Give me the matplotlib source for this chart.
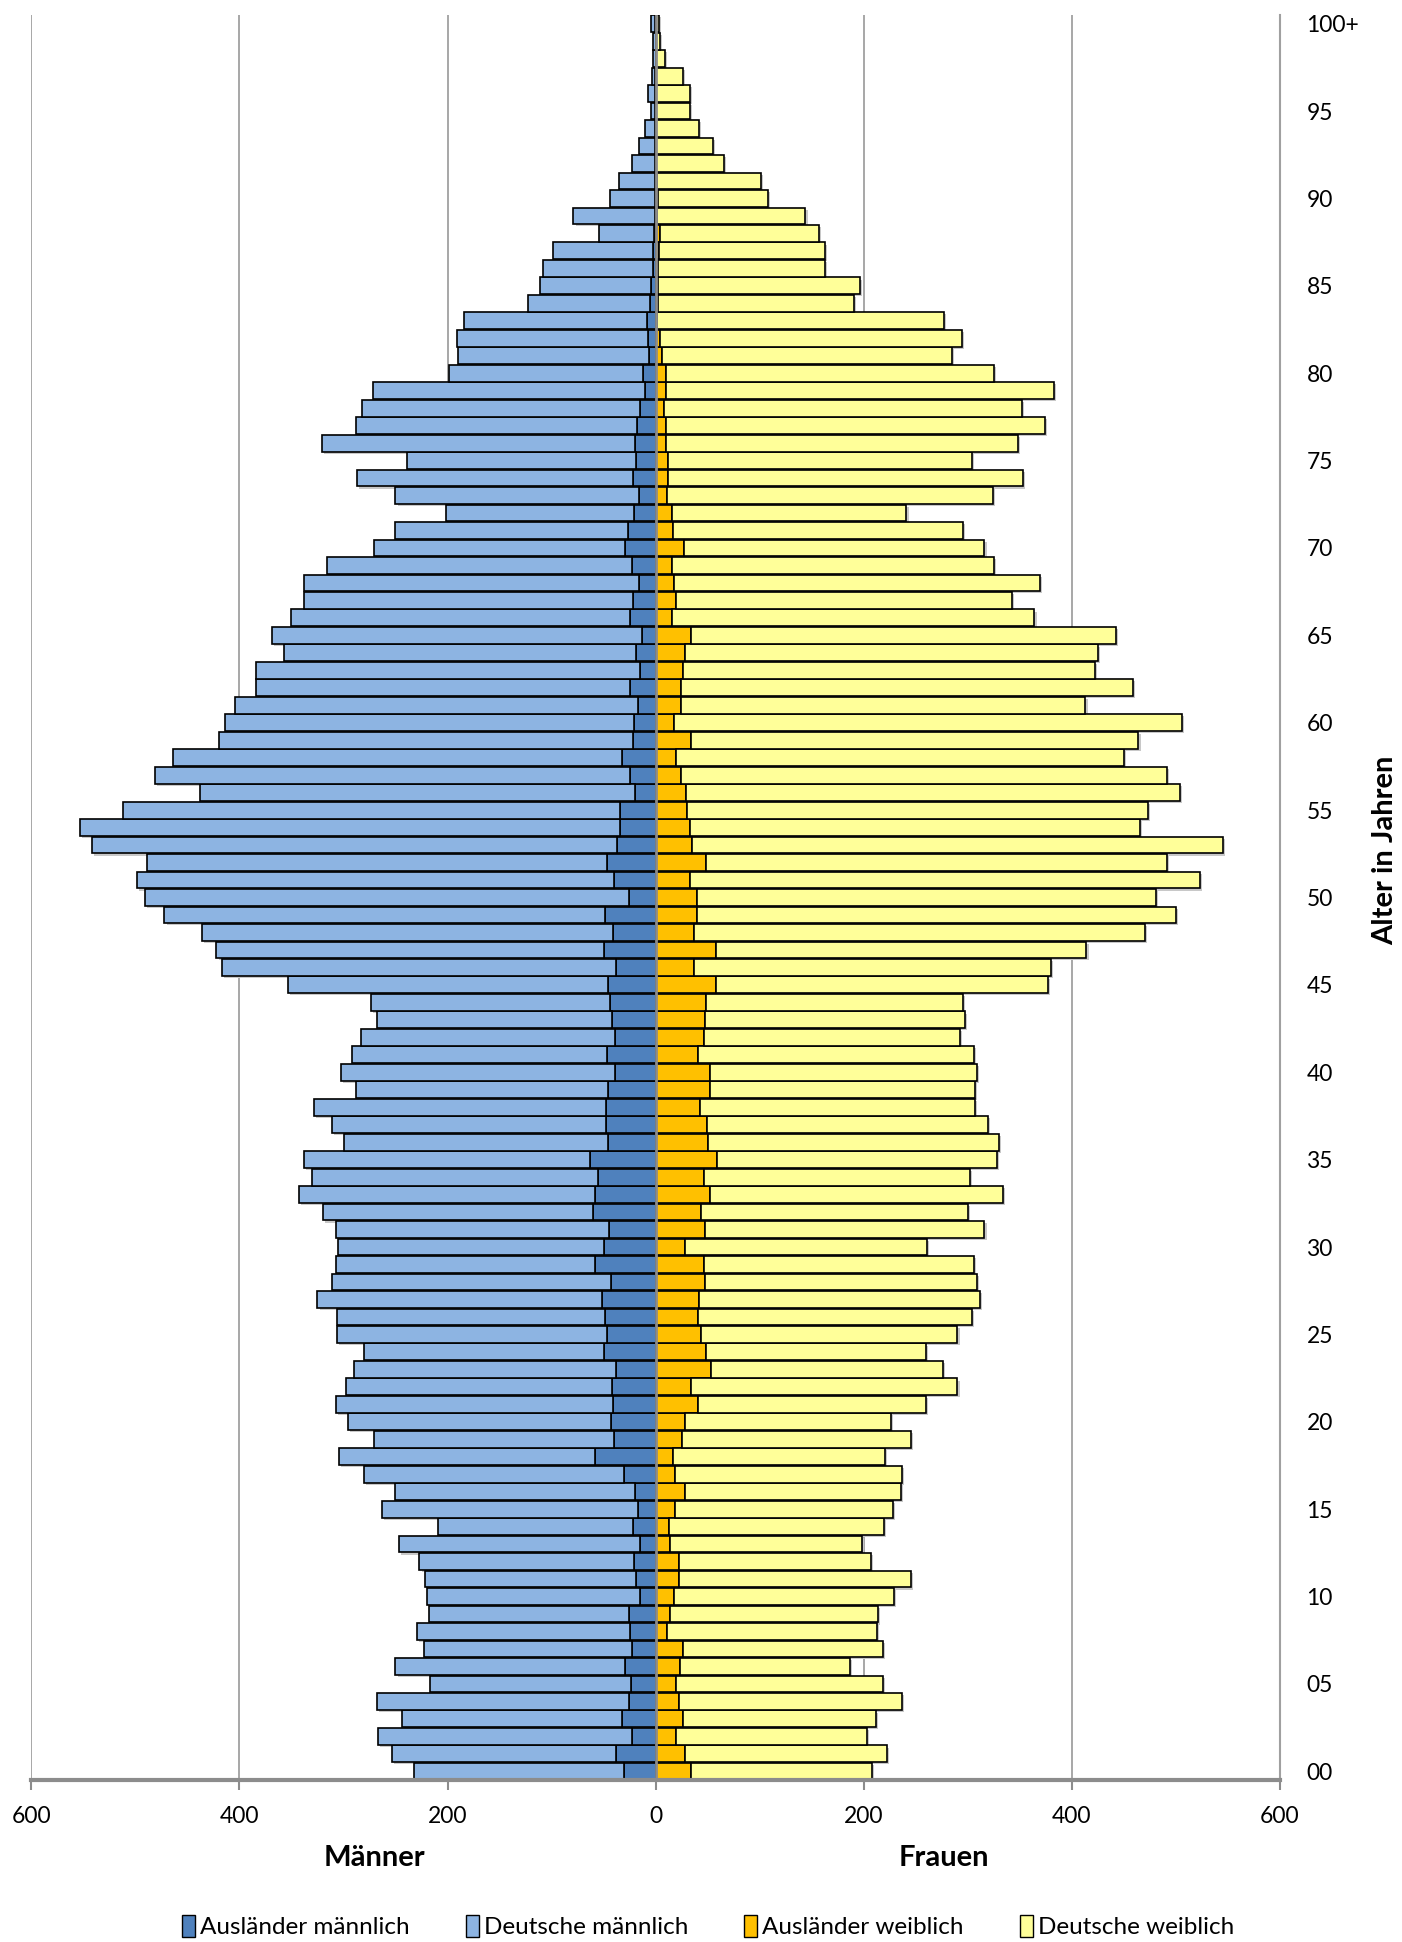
import numpy as np
import matplotlib
matplotlib.use('Agg')
import matplotlib.pyplot as plt
from matplotlib.patches import Patch

plt.rcParams['font.family'] = ['Lato', 'DejaVu Sans']

# Altersjahre 0 .. 100+
ages = np.arange(0, 101)

# Auslaender maennlich
m_ausl = [30, 38, 23, 32, 26, 24, 29, 23, 25, 26,
          15, 19, 21, 15, 22, 17, 20, 30, 58, 40,
          43, 41, 42, 38, 50, 47, 49, 52, 43, 58,
          50, 45, 60, 58, 55, 63, 46, 48, 48, 46,
          39, 47, 39, 42, 44, 46, 38, 50, 41, 49,
          26, 40, 47, 37, 34, 34, 20, 25, 32, 22,
          21, 17, 25, 15, 19, 13, 25, 22, 16, 23,
          29, 27, 21, 16, 22, 19, 20, 18, 15, 10,
          12, 6, 7, 8, 5, 4, 3, 3, 2, 1,
          1, 0.5, 0.5, 0.3, 0.3, 0.2, 0.2, 0.2, 0.1, 0.1,
          0.5]

# Deutsche maennlich
m_de = [202, 215, 244, 212, 242, 193, 221, 200, 204, 192,
        205, 203, 206, 232, 187, 246, 230, 250, 246, 231,
        253, 266, 256, 252, 230, 259, 257, 273, 268, 249,
        255, 262, 260, 285, 275, 275, 253, 263, 280, 242,
        263, 245, 244, 226, 230, 307, 379, 372, 395, 423,
        465, 458, 442, 505, 519, 478, 418, 456, 432, 398,
        393, 387, 359, 369, 338, 356, 325, 316, 322, 293,
        242, 223, 180, 234, 265, 220, 301, 270, 267, 262,
        187, 184, 184, 176, 118, 107, 105, 96, 52, 78,
        43, 35, 22, 16, 10, 4, 7, 3, 2, 2.5,
        3.5]

# Auslaender weiblich
w_ausl = [34, 28, 20, 26, 22, 20, 23, 26, 11, 14,
          18, 22, 22, 14, 13, 19, 28, 19, 17, 25,
          28, 41, 34, 53, 48, 44, 41, 42, 47, 46,
          28, 47, 44, 52, 46, 59, 50, 49, 43, 52,
          52, 41, 46, 47, 48, 58, 37, 58, 37, 40,
          40, 33, 48, 35, 33, 30, 29, 24, 20, 34,
          18, 24, 24, 26, 28, 34, 16, 20, 18, 16,
          27, 17, 16, 11, 12, 12, 10, 10, 8, 10,
          10, 6, 4, 1, 2, 2, 2, 3, 4, 1,
          2, 1, 0.5, 0.5, 0.3, 0.3, 0.3, 0.2, 0.1, 0.1,
          0.2]

# Deutsche weiblich
w_de = [174, 194, 183, 186, 215, 198, 164, 192, 202, 200,
        211, 223, 185, 184, 206, 209, 208, 218, 203, 220,
        198, 219, 256, 223, 212, 246, 263, 270, 262, 260,
        233, 269, 256, 282, 256, 269, 280, 270, 264, 255,
        257, 265, 246, 250, 247, 319, 343, 356, 433, 460,
        441, 490, 443, 510, 432, 443, 475, 467, 430, 430,
        488, 389, 435, 396, 397, 408, 348, 322, 351, 309,
        289, 278, 225, 313, 341, 292, 338, 364, 344, 373,
        315, 279, 290, 276, 189, 194, 161, 160, 153, 143,
        106, 100, 65.5, 55, 41, 33, 33, 26, 8.5, 4,
        3]

age_ticks = list(range(0, 101, 5))
age_labels = ['%02d' % a for a in age_ticks[:-1]] + ['100+']
x_ticks = [-600, -400, -200, 0, 200, 400, 600]

m_ausl = np.array(m_ausl)
m_de = np.array(m_de)
w_ausl = np.array(w_ausl)
w_de = np.array(w_de)

c_m_ausl = '#4F81BD'
c_m_de = '#8DB4E2'
c_w_ausl = '#FFC000'
c_w_de = '#FFFF99'

fig = plt.figure(figsize=(14.02, 19.42), dpi=100)
ax = fig.add_axes([0.0223, 0.0834, 0.8907, 0.9089])

h = 0.96
# shadow
ax.barh(ages - 0.12, -(m_ausl + m_de), left=2, height=h, color='#c8c8c8', lw=0, zorder=1)
ax.barh(ages - 0.12, w_ausl + w_de, left=2, height=h, color='#c8c8c8', lw=0, zorder=1)

kw = dict(height=h, edgecolor='black', linewidth=1.2, zorder=2)
ax.barh(ages, -m_ausl, color=c_m_ausl, **kw)
ax.barh(ages, -m_de, left=-m_ausl, color=c_m_de, **kw)
ax.barh(ages, w_ausl, color=c_w_ausl, **kw)
ax.barh(ages, w_de, left=w_ausl, color=c_w_de, **kw)

for x in x_ticks:
    ax.axvline(x, color='#a0a0a0', lw=1.3, zorder=0)
ax.axvline(0, color='#8c8c8c', lw=2, zorder=3)

ax.set_xlim(-600, 600)
ax.set_ylim(-0.5, 100.5)
ax.set_xticks(x_ticks)
ax.set_xticklabels([str(abs(x)) for x in x_ticks], fontsize=16.5)
ax.tick_params(axis='x', direction='out', length=7, width=1.5, color='#8c8c8c', pad=12)

ax.yaxis.tick_right()
ax.set_yticks(age_ticks)
ax.set_yticklabels(age_labels, fontsize=16.5)
ax.tick_params(axis='y', length=0, pad=19)

ax.spines['top'].set_visible(False)
ax.spines['left'].set_visible(False)
ax.spines['right'].set_color('#a0a0a0')
ax.spines['right'].set_linewidth(1.5)
ax.spines['bottom'].set_color('#8c8c8c')
ax.spines['bottom'].set_linewidth(3)

fig.text(0.2668, 0.0433, 'Männer', fontsize=21, fontweight='bold', ha='center', va='center')
fig.text(0.673, 0.0433, 'Frauen', fontsize=21, fontweight='bold', ha='center', va='center')
fig.text(0.988, 0.562, 'Alter in Jahren', fontsize=21, fontweight='bold',
         rotation=90, ha='center', va='center')

handles = [Patch(facecolor=c_m_ausl, edgecolor='black', label='Ausländer männlich'),
           Patch(facecolor=c_m_de, edgecolor='black', label='Deutsche männlich'),
           Patch(facecolor=c_w_ausl, edgecolor='black', label='Ausländer weiblich'),
           Patch(facecolor=c_w_de, edgecolor='black', label='Deutsche weiblich')]
fig.legend(handles=handles, loc='center', bbox_to_anchor=(0.505, 0.008), ncol=4,
           frameon=False, fontsize=17.5, handlelength=0.55, handleheight=1.0,
           handletextpad=0.2, columnspacing=2.3)

plt.savefig('out.png', dpi=100)
